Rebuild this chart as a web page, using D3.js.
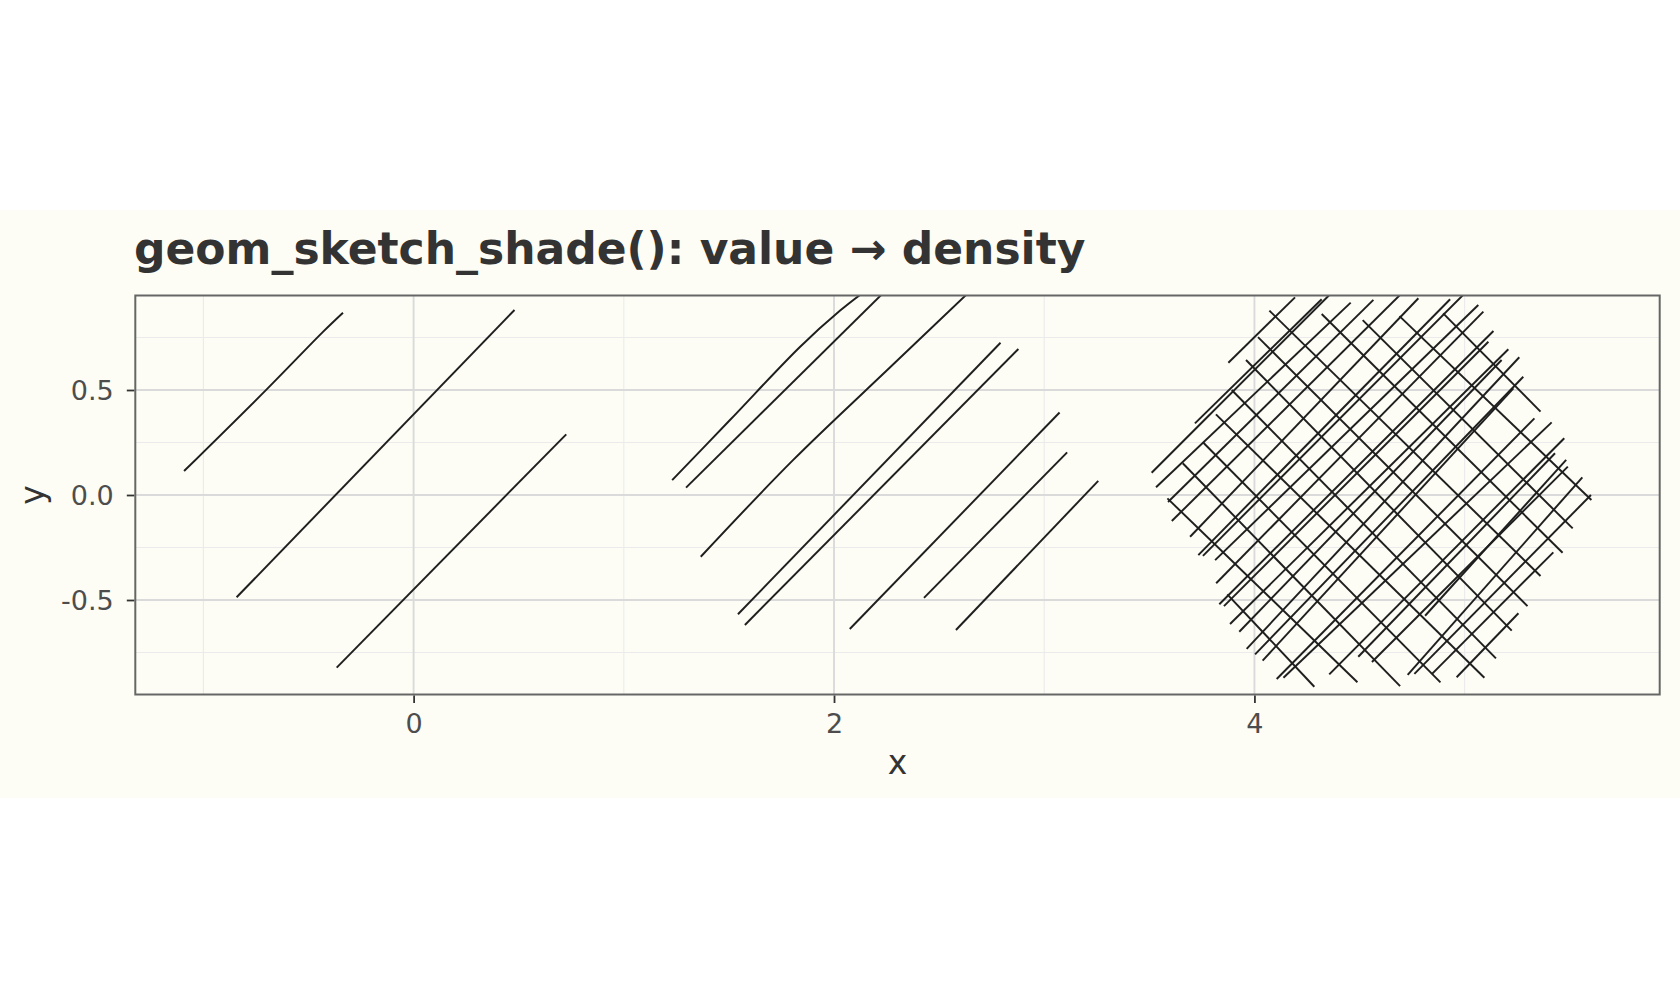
<!DOCTYPE html>
<html><head><meta charset="utf-8">
<script src="https://cdn.jsdelivr.net/npm/d3@7"></script>
<style>html,body{margin:0;padding:0;background:#fff;} svg{display:block;}</style>
</head><body>
<svg id="chart" width="1680" height="1008"></svg>
<script>
const title = "geom_sketch_shade(): value \u2192 density";
const xLabel = "x";
const yLabel = "y";
const xTicks = [0, 2, 4];
const yTicks = [-0.5, 0, 0.5];
const xMinor = [-1, 1, 3, 5];
const yMinor = [-0.75, -0.25, 0.25, 0.75];
const xDomain = [-1.324, 5.928];
const yDomain = [-0.95, 0.95];

// hatch strokes of the low-value shape
const strokesLow = [
  [[-1.092,0.114],[-0.699,0.503],[-0.430,0.778],[-0.336,0.868]],
  [[-0.842,-0.487],[0.480,0.881]],
  [[-0.366,-0.822],[0.726,0.289]]
];
// hatch strokes of the mid-value shape
const strokesMid = [
  [[1.230,0.071],[1.505,0.357],[1.839,0.706],[2.029,0.878],[2.14,0.965]],
  [[1.296,0.035],[2.232,0.96]],
  [[1.366,-0.294],[1.806,0.167],[2.267,0.608],[2.636,0.96]],
  [[1.543,-0.568],[2.792,0.725]],
  [[1.576,-0.619],[2.877,0.695]],
  [[2.075,-0.638],[3.073,0.393]],
  [[2.428,-0.490],[3.109,0.203]],
  [[2.580,-0.643],[3.257,0.067]]
];
// high-value shape: rising strokes
const strokesHighUp = [
  [[3.876,0.630],[4.193,0.941]],
  [[3.717,0.341],[4.320,0.932]],
  [[3.511,0.106],[4.362,0.958]],
  [[3.532,0.037],[4.458,0.916]],
  [[3.589,-0.033],[4.566,0.929]],
  [[3.607,-0.124],[4.700,0.960]],
  [[3.694,-0.199],[4.780,0.937]],
  [[3.733,-0.286],[4.931,0.932]],
  [[3.755,-0.290],[5.000,0.960]],
  [[3.813,-0.310],[5.065,0.905]],
  [[3.818,-0.420],[5.089,0.873]],
  [[3.833,-0.520],[5.137,0.781]],
  [[3.855,-0.529],[5.113,0.730]],
  [[3.884,-0.614],[5.208,0.694]],
  [[3.928,-0.651],[5.176,0.643]],
  [[3.963,-0.733],[5.260,0.656]],
  [[4.003,-0.759],[5.279,0.563]],
  [[4.039,-0.789],[5.232,0.508]],
  [[4.106,-0.876],[5.332,0.365]],
  [[4.138,-0.870],[5.414,0.346]],
  [[4.356,-0.854],[5.474,0.270]],
  [[4.494,-0.770],[5.430,0.199]],
  [[4.812,-0.575],[5.483,0.167]],
  [[4.729,-0.857],[5.560,0.084]],
  [[4.761,-0.852],[5.601,0.000]],
  [[4.845,-0.852],[5.422,-0.273]],
  [[4.962,-0.868],[5.256,-0.563]],
  [[4.559,-0.795],[5.491,0.135]]
];
// high-value shape: falling strokes
const strokesHighDown = [
  [[3.871,-0.473],[4.285,-0.913]],
  [[3.586,-0.016],[4.490,-0.892]],
  [[3.659,0.151],[4.693,-0.910]],
  [[3.755,0.251],[4.885,-0.892]],
  [[3.817,0.384],[5.094,-0.870]],
  [[3.892,0.500],[5.149,-0.778]],
  [[3.960,0.643],[5.224,-0.646]],
  [[4.017,0.752],[5.299,-0.529]],
  [[4.071,0.878],[5.361,-0.386]],
  [[4.320,0.862],[5.466,-0.275]],
  [[4.515,0.833],[5.514,-0.159]],
  [[4.690,0.852],[5.603,-0.024]],
  [[4.898,0.865],[5.361,0.397]]
];

const W = 1680, H = 1008;
const bg = "#FDFDF5";
const panel = {left: 135.3, right: 1659.7, top: 295.5, bottom: 694.5};

const svg = d3.select("#chart");
svg.append("rect").attr("x",0).attr("y",0).attr("width",W).attr("height",H).attr("fill","#fff");
svg.append("rect").attr("x",0).attr("y",210).attr("width",W).attr("height",588).attr("fill",bg);

const x = d3.scaleLinear().domain(xDomain).range([panel.left, panel.right]);
const y = d3.scaleLinear().domain(yDomain).range([panel.bottom, panel.top]);

const g = svg.append("g");
g.append("rect").attr("x",panel.left).attr("y",panel.top)
  .attr("width",panel.right-panel.left).attr("height",panel.bottom-panel.top).attr("fill",bg);

// minor grid
g.selectAll(".xminor").data(xMinor).join("line")
  .attr("x1",d=>x(d)).attr("x2",d=>x(d)).attr("y1",panel.top).attr("y2",panel.bottom)
  .attr("stroke","#EBEBEB").attr("stroke-width",1.1);
g.selectAll(".yminor").data(yMinor).join("line")
  .attr("y1",d=>y(d)).attr("y2",d=>y(d)).attr("x1",panel.left).attr("x2",panel.right)
  .attr("stroke","#EBEBEB").attr("stroke-width",1.1);
// major grid
g.selectAll(".xmajor").data(xTicks).join("line")
  .attr("x1",d=>x(d)).attr("x2",d=>x(d)).attr("y1",panel.top).attr("y2",panel.bottom)
  .attr("stroke","#DADADA").attr("stroke-width",1.9);
g.selectAll(".ymajor").data(yTicks).join("line")
  .attr("y1",d=>y(d)).attr("y2",d=>y(d)).attr("x1",panel.left).attr("x2",panel.right)
  .attr("stroke","#DADADA").attr("stroke-width",1.9);

svg.append("clipPath").attr("id","pclip").append("rect")
  .attr("x",panel.left).attr("y",panel.top)
  .attr("width",panel.right-panel.left).attr("height",panel.bottom-panel.top);

const line = d3.line().x(d=>x(d[0])).y(d=>y(d[1])).curve(d3.curveCatmullRom.alpha(0.5));
const marks = svg.append("g").attr("clip-path","url(#pclip)");
[strokesLow, strokesMid, strokesHighUp, strokesHighDown].forEach(set => {
  marks.append("g").selectAll("path").data(set).join("path")
    .attr("d", line).attr("fill","none").attr("stroke","#1F1F1F")
    .attr("stroke-width",1.95).attr("stroke-linecap","butt");
});

// panel border
svg.append("rect").attr("x",panel.left).attr("y",panel.top)
  .attr("width",panel.right-panel.left).attr("height",panel.bottom-panel.top)
  .attr("fill","none").attr("stroke","#666666").attr("stroke-width",2);

// axes
const font = "DejaVu Sans, sans-serif";
const xAxis = d3.axisBottom(x).tickValues(xTicks).tickFormat(d3.format("d")).tickSizeOuter(0).tickSize(7.5).tickPadding(5);
const xg = svg.append("g").attr("transform",`translate(0,${panel.bottom+1})`).call(xAxis);
const yAxis = d3.axisLeft(y).tickValues(yTicks).tickFormat(d3.format(".1f")).tickSizeOuter(0).tickSize(7.5).tickPadding(5);
const yg = svg.append("g").attr("transform",`translate(${panel.left-1},0)`).call(yAxis);
[xg, yg].forEach(a => {
  a.select(".domain").remove();
  a.selectAll(".tick line").attr("stroke","#333333").attr("stroke-width",1.8);
  a.selectAll(".tick text").attr("fill","#4D4D4D").attr("font-family",font).attr("font-size",27);
});
xg.selectAll(".tick text").attr("dy",null).attr("y",null).attr("dominant-baseline",null)
  .attr("transform",null).attr("y", 732.5 - panel.bottom - 1);
yg.selectAll(".tick text").attr("dy","0.36em").attr("x",-20.5);
yg.selectAll(".tick text").text(d => d === 0 ? "0.0" : d3.format(".1f")(d).replace("\u2212","-"));

svg.append("text").attr("x",(panel.left+panel.right)/2).attr("y",773.5)
  .attr("text-anchor","middle").attr("font-family",font).attr("font-size",33)
  .attr("fill","#333333").text(xLabel);
svg.append("text").attr("transform",`translate(43.5,${(panel.top+panel.bottom)/2}) rotate(-90)`)
  .attr("text-anchor","middle").attr("font-family",font).attr("font-size",33)
  .attr("fill","#333333").text(yLabel);

svg.append("text").attr("x",134).attr("y",264).attr("font-family",font)
  .attr("font-weight","bold").attr("font-size",44).attr("fill","#333333").text(title);
</script>
</body></html>
